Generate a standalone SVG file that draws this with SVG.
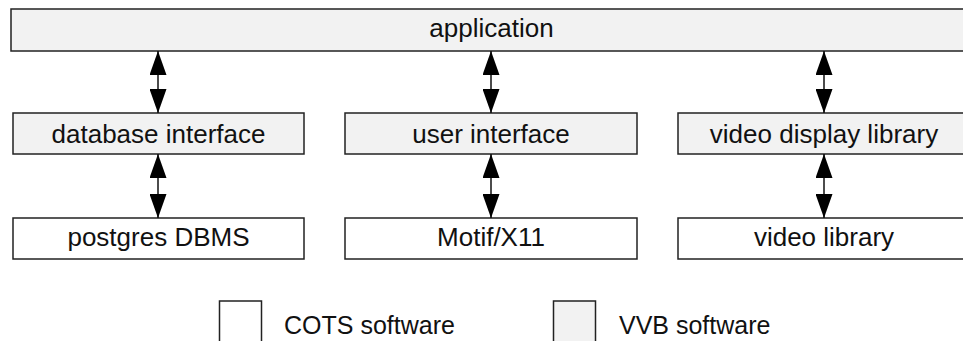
<svg xmlns="http://www.w3.org/2000/svg" width="963" height="341" viewBox="0 0 963 341">
<defs>
<style>
.box{stroke:#222;stroke-width:1.5}
.vvb{fill:#f2f2f2}
.cots{fill:#fff}
text{font-family:"Liberation Sans",Arial,Helvetica,sans-serif;font-size:26px;fill:#111}
.c{text-anchor:middle}
.lg{font-size:25px}
.conn{stroke:#111;stroke-width:1.5;fill:none}
</style>
<marker id="ah" markerUnits="userSpaceOnUse" markerWidth="24" markerHeight="17" refX="24" refY="8.5" orient="auto-start-reverse">
<path d="M0,0 L24,8.5 L0,17 z" fill="#000"/>
</marker>
</defs>
<rect width="963" height="341" fill="#fff"/>
<g id="application"><rect class="box vvb" x="11" y="9" width="961" height="42"/><text class="c" x="491.5" y="37">application</text></g>
<g id="database-interface"><rect class="box vvb" x="13" y="113" width="291" height="41"/><text class="c" x="158.5" y="143">database interface</text></g>
<g id="user-interface"><rect class="box vvb" x="345" y="113" width="292" height="41"/><text class="c" x="491" y="143">user interface</text></g>
<g id="video-display-library"><rect class="box vvb" x="678" y="113" width="292" height="41"/><text class="c" x="824" y="143">video display library</text></g>
<g id="postgres-dbms"><rect class="box cots" x="13" y="218" width="291" height="41"/><text class="c" x="158.5" y="246">postgres DBMS</text></g>
<g id="motif-x11"><rect class="box cots" x="345" y="218" width="292" height="41"/><text class="c" x="491" y="246">Motif/X11</text></g>
<g id="video-library"><rect class="box cots" x="678" y="218" width="292" height="41"/><text class="c" x="824" y="246">video library</text></g>
<g id="connectors">
<line class="conn" x1="158" y1="51" x2="158" y2="113" marker-start="url(#ah)" marker-end="url(#ah)"/>
<line class="conn" x1="491" y1="51" x2="491" y2="113" marker-start="url(#ah)" marker-end="url(#ah)"/>
<line class="conn" x1="824" y1="51" x2="824" y2="113" marker-start="url(#ah)" marker-end="url(#ah)"/>
<line class="conn" x1="158" y1="154" x2="158" y2="218" marker-start="url(#ah)" marker-end="url(#ah)"/>
<line class="conn" x1="491" y1="154" x2="491" y2="218" marker-start="url(#ah)" marker-end="url(#ah)"/>
<line class="conn" x1="824" y1="154" x2="824" y2="218" marker-start="url(#ah)" marker-end="url(#ah)"/>
</g>
<g id="legend-cots"><rect class="box cots" x="219.5" y="301" width="42" height="50"/><text class="lg" x="284" y="334">COTS software</text></g>
<g id="legend-vvb"><rect class="box vvb" x="553.5" y="301" width="42" height="50"/><text class="lg" x="619" y="334">VVB software</text></g>
</svg>
